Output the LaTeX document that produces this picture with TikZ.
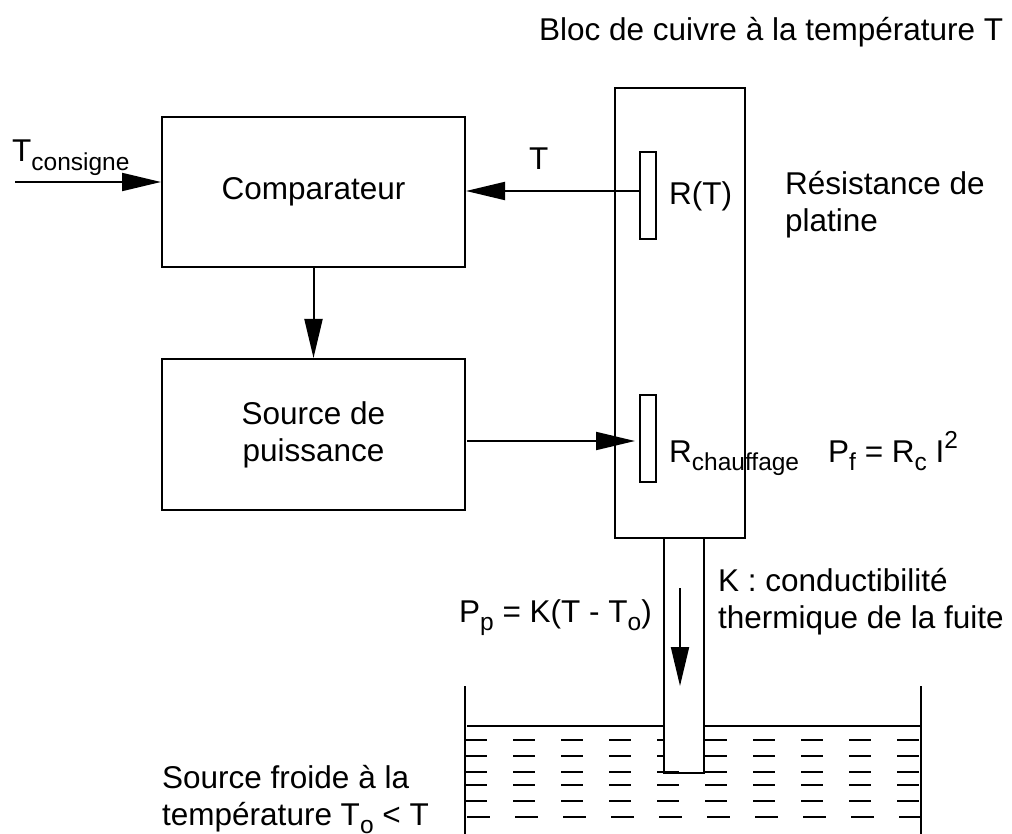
\documentclass[tikz,border=0pt]{standalone}
\usepackage{fontspec}
\setmainfont{Liberation Sans}
\usetikzlibrary{arrows.meta}
\newcommand{\subtxt}[1]{\raisebox{-0.27em}{\fontsize{24.5}{26}\selectfont #1}}
\newcommand{\suptxt}[1]{\raisebox{0.42em}{\fontsize{24.5}{26}\selectfont #1}}
\tikzset{
  ln/.style={line width=2pt,draw=black},
  blockbox/.style={ln,rectangle,inner sep=0pt,minimum width=303pt,minimum height=150pt,align=center},
  resbox/.style={ln,rectangle,inner sep=0pt,minimum width=16pt,minimum height=87pt},
  arr/.style={ln,-{Triangle[length=39pt,width=18pt]}},
  lab/.style={inner sep=0pt,anchor=base west,align=left},
  dashln/.style={line width=2pt,draw=black},
  every node/.style={font=\fontsize{31.5}{37}\selectfont}
}
\begin{document}
\begin{tikzpicture}[x=1pt,y=-1pt]
\useasboundingbox (0,0) rectangle (1012,834);
% bath
\coordinate (tankLT) at (465,686);
\coordinate (tankLB) at (465,834);
\coordinate (tankRT) at (921,686);
\coordinate (tankRB) at (921,834);
\draw[ln] (tankLT) -- (tankLB);
\draw[ln] (tankRT) -- (tankRB);
\coordinate (surfL) at (467,726);
\coordinate (surfR) at (921,726);
\draw[ln] (surfL) -- (surfR);
\foreach \y in {740,756,772,785,801,817}{
  \ifnum\y=817\relax
    \foreach \x in {467,515,...,899}{\draw[dashln] (\x,\y) -- ++(23,0);}
  \else
    \foreach \x in {465,513,...,897}{\draw[dashln] (\x,\y) -- ++(22,0);}
  \fi
}
% leak
\node[ln,fill=white,rectangle,inner sep=0pt,minimum width=40pt,minimum height=235pt] (tube) at (684,655.5) {};
\draw[dashln] (657,772) -- (679,772);
% copper block
\node[ln,fill=white,rectangle,inner sep=0pt,minimum width=130pt,minimum height=450pt] (bloc) at (680,313) {};
\node[resbox] (rt) at (648,195.5) {};
\node[resbox] (rc) at (648,438) {};
\node[blockbox] (comp) at (313.5,192) {Comparateur};
\node[blockbox,minimum height=151pt] (src) at (313.5,434.5) {Source de\\puissance};
% connectors
\coordinate (tin) at (15,182);
\draw[arr] (tin) -- (tin -| comp.west);
\draw[arr] (rt.west |- 0,191) -- (comp.east |- 0,191);
\draw[arr] (comp.south) -- (src.north);
\coordinate (srcout) at (467,441);
\coordinate (heatin) at (635,441);
\draw[arr] (srcout) -- (heatin);
\coordinate (flowA) at (680,588);
\coordinate (flowB) at (680,686);
\draw[arr] (flowA) -- (flowB);
% labels
\node[lab] (t0) at (539,41) {Bloc de cuivre à la température T};
\node[lab] (t1) at (12,162) {T\subtxt{consigne}};
\node[lab] (t2) at (529,170) {T};
\node[lab] (t3) at (669,205) {R(T)};
\node[lab] (t4) at (785,232) {Résistance de\\platine};
\node[lab] (t5) at (669,462) {R\subtxt{chauffage}};
\node[lab] (t6) at (828,462) {P\subtxt{f} = R\subtxt{c} I\suptxt{2}};
\node[lab,anchor=base east] (t7) at (652,622) {P\subtxt{p} = K(T - T\subtxt{o})};
\node[lab] (t8) at (718,628) {K : conductibilité\\thermique de la fuite};
\node[lab] (t9) at (162,825) {Source froide à la\\température T\subtxt{o} < T};
\end{tikzpicture}
\end{document}
